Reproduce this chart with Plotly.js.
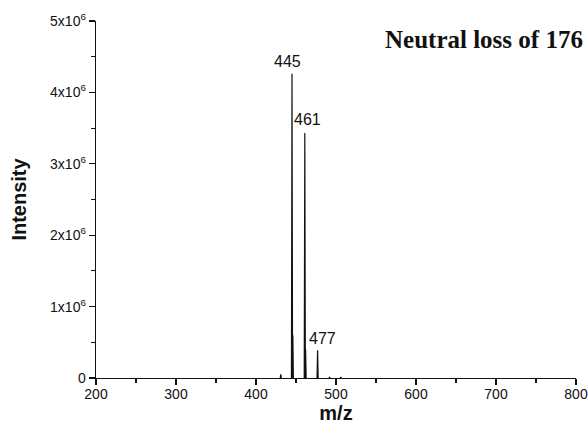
<!DOCTYPE html>
<html>
<head>
<meta charset="utf-8">
<script src="https://cdn.plot.ly/plotly-3.0.1.min.js"></script>
<style>html,body{margin:0;padding:0;background:#fff;}#chart{width:588px;height:437px;}</style>
</head>
<body>
<div id="chart"></div>
<script>
// Peak data (m/z, intensity)
const peakMz = [431, 445, 446, 461, 462, 477, 492, 506];
const peakIntensity = [50000, 4260000, 600000, 3430000, 400000, 390000, 15000, 15000];
// Labelled peaks
const labelMz = [445, 461, 477];
const labelIntensity = [4260000, 3430000, 390000];
const labelText = ["445", "461", "477"];
// Axis ticks
const xTickVals = [200, 300, 400, 500, 600, 700, 800];
const yTickVals = [0, 1000000, 2000000, 3000000, 4000000, 5000000];
const yTickText = ["0", "1x10<sup>6</sup>", "2x10<sup>6</sup>", "3x10<sup>6</sup>", "4x10<sup>6</sup>", "5x10<sup>6</sup>"];

// Build stick spectrum from peaks
const xs = [], ys = [];
const hw = 0.7;
peakMz.forEach((m, i) => {
  xs.push(m - hw, m, m + hw, null);
  ys.push(0, peakIntensity[i], 0, null);
});

const trace = {
  x: xs, y: ys, type: 'scatter', mode: 'lines',
  line: {color: '#111', width: 1.2}, connectgaps: false, hoverinfo: 'skip'
};

const labelShifts = [-5, 3, 5];
const labelYShift = [2, 3, 1];
const annotations = labelMz.map((m, i) => ({
  x: m, y: labelIntensity[i], xref: 'x', yref: 'y', text: labelText[i],
  showarrow: false, xanchor: 'center', yanchor: 'bottom',
  xshift: labelShifts[i], yshift: labelYShift[i],
  font: {family: 'Liberation Sans, Arial', size: 16, color: '#111'}
}));
annotations.push({
  x: 1, y: 1, xref: 'paper', yref: 'paper', xanchor: 'right', yanchor: 'top',
  xshift: 9, yshift: -3,
  text: '<b>Neutral loss of 176</b>', showarrow: false,
  font: {family: 'Liberation Serif, Times New Roman', size: 25, color: '#111'}
});

const layout = {
  width: 588, height: 437,
  margin: {l: 96, r: 12, t: 21, b: 59},
  paper_bgcolor: '#fff', plot_bgcolor: '#fff',
  showlegend: false,
  font: {family: 'Liberation Sans, Arial', color: '#111'},
  xaxis: {
    range: [200, 800], tickvals: xTickVals, ticks: 'outside', ticklen: 6, tickwidth: 1.3,
    tickcolor: '#111', showline: true, linecolor: '#111', linewidth: 1.3,
    showgrid: false, zeroline: false, tickfont: {size: 14}, ticklabelstandoff: -3,
    minor: {dtick: 50, tick0: 200, ticks: 'outside', ticklen: 4, tickcolor: '#111', tickwidth: 1.2, showgrid: false},
    title: {text: '<b>m/z</b>', font: {size: 20}, standoff: 0}
  },
  yaxis: {
    range: [0, 5000000], tickvals: yTickVals, ticktext: yTickText, ticks: 'outside', ticklen: 6, tickwidth: 1.3,
    tickcolor: '#111', showline: true, linecolor: '#111', linewidth: 1.3,
    showgrid: false, zeroline: false, tickfont: {size: 14},
    minor: {dtick: 500000, tick0: 0, ticks: 'outside', ticklen: 4, tickcolor: '#111', tickwidth: 1.2, showgrid: false},
    title: {text: '<b>Intensity</b>', font: {size: 20}, standoff: 18}
  },
  annotations: annotations
};

Plotly.newPlot('chart', [trace], layout, {staticPlot: true, displayModeBar: false});
</script>
</body>
</html>
